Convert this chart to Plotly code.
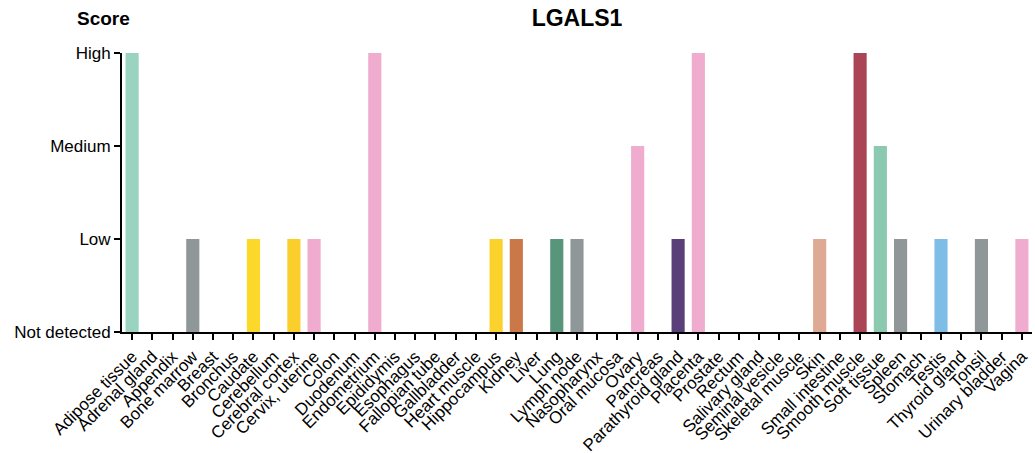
import plotly.graph_objects as go

categories = ["Adipose tissue", "Adrenal gland", "Appendix", "Bone marrow", "Breast", "Bronchus",
              "Caudate", "Cerebellum", "Cerebral cortex", "Cervix, uterine", "Colon", "Duodenum",
              "Endometrium", "Epididymis", "Esophagus", "Fallopian tube", "Gallbladder", "Heart muscle",
              "Hippocampus", "Kidney", "Liver", "Lung", "Lymph node", "Nasopharynx", "Oral mucosa",
              "Ovary", "Pancreas", "Parathyroid gland", "Placenta", "Prostate", "Rectum",
              "Salivary gland", "Seminal vesicle", "Skeletal muscle", "Skin", "Small intestine",
              "Smooth muscle", "Soft tissue", "Spleen", "Stomach", "Testis", "Thyroid gland",
              "Tonsil", "Urinary bladder", "Vagina"]

scores = [3, 0, 0, 1, 0, 0,
          1, 0, 1, 1, 0, 0,
          3, 0, 0, 0, 0, 0,
          1, 1, 0, 1, 1, 0, 0,
          2, 0, 1, 3, 0, 0,
          0, 0, 0, 1, 0,
          3, 2, 1, 0, 1, 0,
          1, 0, 1]

colors = ["#9ad3c0", "#9ad3c0", "#f0acce", "#8f9799", "#f0acce", "#8f9799",
          "#fcd82a", "#fcd82a", "#fbcf2b", "#f0acce", "#f0acce", "#f0acce",
          "#f0acce", "#f0acce", "#f0acce", "#f0acce", "#f0acce", "#cb7848",
          "#fbd22c", "#cb7848", "#58967c", "#58967c", "#8f9799", "#8f9799", "#f0acce",
          "#f0acce", "#f0acce", "#5a4079", "#f0acce", "#f0acce", "#f0acce",
          "#f0acce", "#f0acce", "#cb7848", "#dfaa93", "#f0acce",
          "#ab4556", "#8bc9b1", "#8f9799", "#f0acce", "#7dbde6", "#5a4079",
          "#8f9799", "#f0acce", "#f0acce"]

tick_vals = [0, 1, 2, 3]
tick_text = ["Not detected", "Low", "Medium", "High"]

fig = go.Figure(go.Bar(
    x=categories, y=scores, marker=dict(color=colors, line=dict(width=0)),
    width=0.65,
))

fig.update_layout(
    width=1035, height=453,
    margin=dict(l=122, r=3, t=53, b=121, autoexpand=False),
    plot_bgcolor="white", paper_bgcolor="white",
    font=dict(family="Liberation Sans, Arial, sans-serif", size=17, color="black"),
    showlegend=False,
    title=dict(text="<b>LGALS1</b>", x=0.5, xanchor="center", xref="paper",
               y=1 - 18 / 453, yanchor="middle", font=dict(size=23)),
    annotations=[dict(text="<b>Score</b>", xref="paper", yref="paper", x=-0.02, y=1.0,
                      yshift=35, xanchor="center", yanchor="middle", showarrow=False,
                      font=dict(size=19))],
)

fig.update_xaxes(
    showline=True, linecolor="black", linewidth=2,
    ticks="outside", ticklen=6, tickwidth=2, tickcolor="black",
    tickmode="array", tickvals=categories, ticktext=categories,
    tickangle=-45, tickfont=dict(size=17), showgrid=False,
    range=[-0.5, 44.5], automargin=False,
)
fig.update_yaxes(
    range=[0, 3], tickvals=tick_vals, ticktext=tick_text,
    showline=True, linecolor="black", linewidth=2,
    ticks="outside", ticklen=6, tickwidth=2, tickcolor="black",
    showgrid=False, zeroline=False, tickfont=dict(size=17), automargin=False,
)

fig.write_html("out.html", config={"displayModeBar": False},
               post_script="document.body.style.margin='0';")
